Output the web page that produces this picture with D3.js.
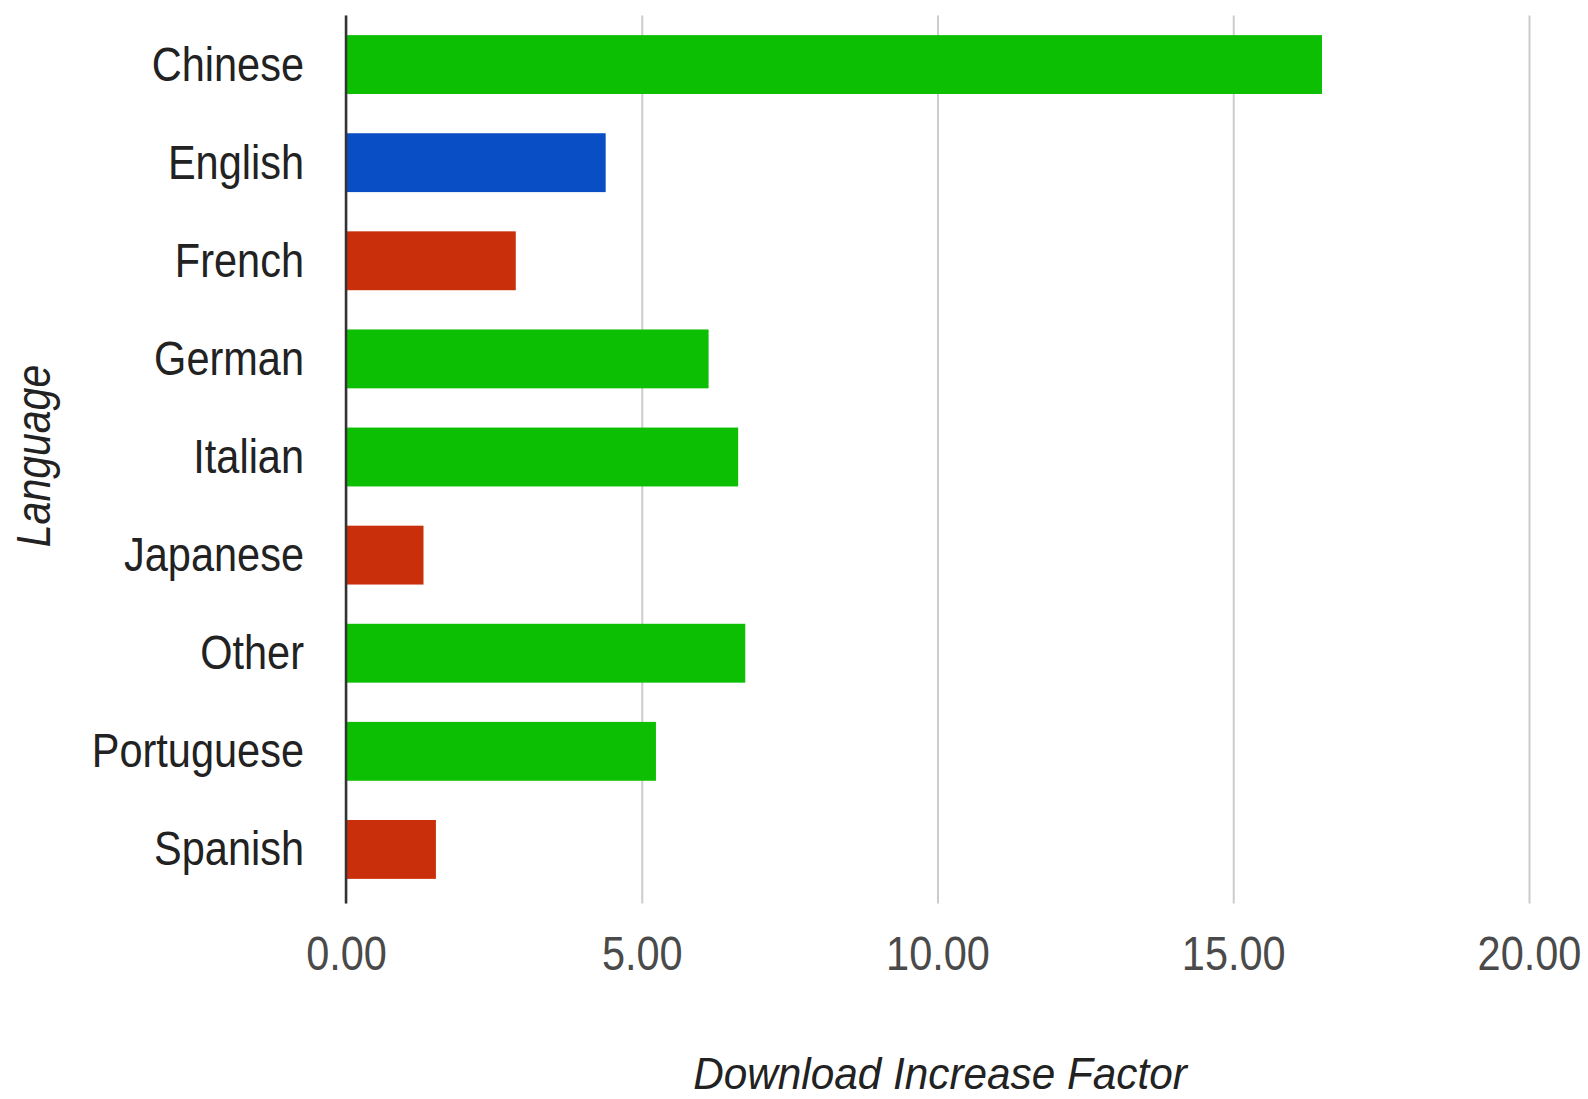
<!DOCTYPE html>
<html>
<head>
<meta charset="utf-8">
<script src="https://cdn.jsdelivr.net/npm/d3@7"></script>
<style>
  html, body { margin: 0; padding: 0; background: #fff; }
  svg { display: block; }
  text { font-family: "Liberation Sans", Arial, sans-serif; }
</style>
</head>
<body>
<svg id="chart" width="1588" height="1099"></svg>
<script>
// Download increase factor by interface language
const languages = ["Chinese", "English", "French", "German", "Italian", "Japanese", "Other", "Portuguese", "Spanish"];
const factors   = [16.50, 4.39, 2.87, 6.13, 6.63, 1.31, 6.75, 5.24, 1.52];
const groups    = ["above", "reference", "below", "above", "above", "below", "above", "above", "below"];
const xTicks    = [0, 5, 10, 15, 20];

(function draw() {
  const svg = d3.select("#chart");
  const plotLeft = 346, plotRight = 1529, plotTop = 15.5, plotBottom = 898.5;
  const stretch = 1.17;   // tall, narrow lettering

  const x = d3.scaleLinear().domain([0, 20]).range([plotLeft, plotRight]);
  const y = d3.scaleBand().domain(languages).range([plotTop, plotBottom])
    .paddingInner(0.4).paddingOuter(0.2);
  const color = d3.scaleOrdinal()
    .domain(["above", "reference", "below"])
    .range(["#0dbf02", "#0a4ec6", "#c92f0b"]);

  // vertical gridlines + tick labels
  const xAxis = svg.append("g")
    .attr("transform", `translate(0,${plotBottom})`)
    .call(d3.axisBottom(x).tickValues(xTicks).tickFormat(d3.format(".2f"))
      .tickSizeInner(-(plotBottom - plotTop)).tickSizeOuter(0));
  xAxis.select(".domain").remove();
  xAxis.selectAll(".tick line")
    .attr("y1", 5).attr("y2", -(plotBottom - plotTop))
    .attr("stroke", "#cccccc").attr("stroke-width", 2);
  xAxis.selectAll(".tick text")
    .attr("y", null).attr("dy", null)
    .attr("transform", `translate(0,${970 - plotBottom}) scale(1,${stretch})`)
    .attr("font-size", 41.5).attr("fill", "#4a4a4a").attr("text-anchor", "middle");

  // bars
  svg.append("g").selectAll("rect")
    .data(languages)
    .join("rect")
    .attr("x", x(0))
    .attr("y", d => y(d))
    .attr("width", (d, i) => x(factors[i]) - x(0))
    .attr("height", y.bandwidth())
    .attr("fill", (d, i) => color(groups[i]));

  // category axis
  const yAxis = svg.append("g")
    .attr("transform", `translate(${plotLeft},0)`)
    .call(d3.axisLeft(y).tickSize(0).tickPadding(0));
  yAxis.select(".domain").remove();
  yAxis.selectAll(".tick text")
    .attr("x", null).attr("dy", null)
    .attr("transform", `translate(-42,16) scale(1,${stretch})`)
    .attr("font-size", 41.5).attr("fill", "#222").attr("text-anchor", "end");

  // zero baseline
  svg.append("line")
    .attr("x1", x(0)).attr("x2", x(0))
    .attr("y1", plotTop).attr("y2", plotBottom + 5)
    .attr("stroke", "#333").attr("stroke-width", 2.5);

  // axis titles
  svg.append("text")
    .attr("transform", `translate(${(693 + 1187) / 2},1089) scale(1,1.07)`)
    .attr("text-anchor", "middle")
    .attr("font-size", 42.3).attr("font-style", "italic").attr("fill", "#222")
    .text("Download Increase Factor");

  svg.append("text")
    .attr("transform", `translate(50,456) rotate(-90) scale(1,${stretch})`)
    .attr("text-anchor", "middle")
    .attr("font-size", 41).attr("font-style", "italic").attr("fill", "#222")
    .text("Language");
})();
</script>
</body>
</html>
